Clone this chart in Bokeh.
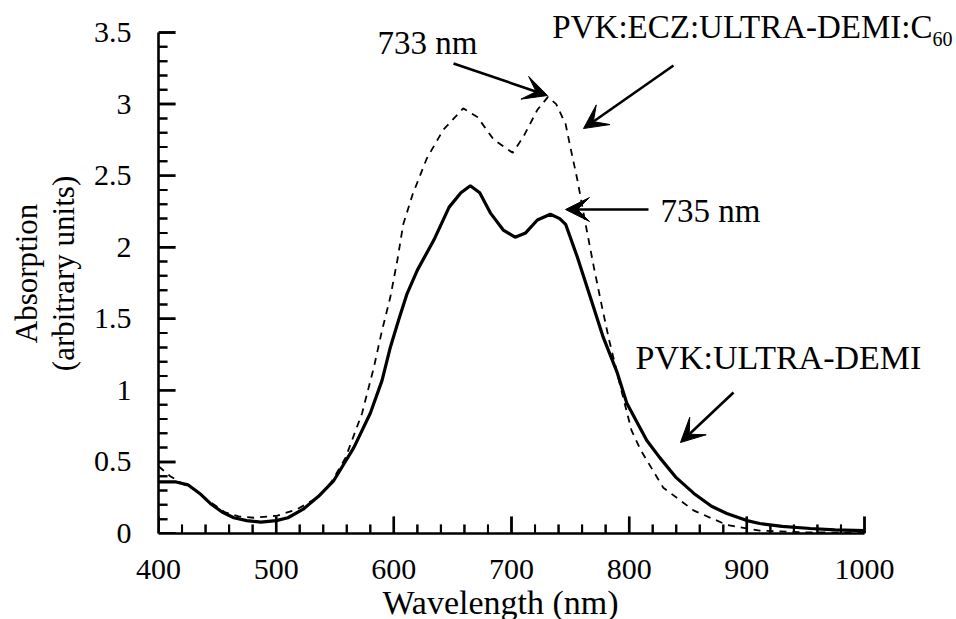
from bokeh.plotting import figure
from bokeh.models import Arrow, VeeHead, Label, FixedTicker, Range1d, Title
from bokeh.embed import file_html
from bokeh.resources import INLINE

# ---- data ----
wl_solid = [400, 415, 425, 435, 444, 454, 464, 475, 487, 500, 510, 523, 536, 549,
            566, 580, 590, 597, 604, 611, 620, 634, 647, 657, 665, 673, 682, 693,
            703, 712, 722, 733, 741, 746, 756, 767, 778, 790, 798, 815, 826, 840,
            855, 870, 883, 900, 911, 930, 954, 975, 1000]
abs_solid = [0.36, 0.36, 0.34, 0.28, 0.21, 0.15, 0.11, 0.09, 0.08, 0.09, 0.11, 0.17,
             0.26, 0.37, 0.60, 0.84, 1.07, 1.30, 1.49, 1.67, 1.84, 2.05, 2.28, 2.38,
             2.43, 2.38, 2.24, 2.12, 2.07, 2.10, 2.19, 2.23, 2.20, 2.16, 1.93, 1.65,
             1.37, 1.12, 0.91, 0.65, 0.53, 0.39, 0.28, 0.19, 0.14, 0.09, 0.07, 0.05,
             0.035, 0.025, 0.02]

wl_dash = [400, 410, 420, 432, 444, 456, 468, 481, 501, 518, 535, 547, 559, 573,
           583, 590, 597, 603, 608, 616, 628, 642, 659, 671, 685, 701, 710, 722,
           731, 738, 746, 750, 756, 763, 770, 777, 783, 794, 802, 810, 829, 855,
           883, 911, 950, 1000]
abs_dash = [0.47, 0.40, 0.35, 0.30, 0.22, 0.15, 0.12, 0.11, 0.125, 0.17, 0.25, 0.36,
            0.53, 0.84, 1.16, 1.42, 1.65, 1.91, 2.16, 2.37, 2.62, 2.82, 2.97, 2.91,
            2.75, 2.66, 2.77, 2.96, 3.05, 3.00, 2.86, 2.70, 2.47, 2.16, 1.86, 1.58,
            1.35, 0.98, 0.72, 0.58, 0.32, 0.16, 0.06, 0.02, 0.008, 0.005]

x_ticks = [400, 500, 600, 700, 800, 900, 1000]
x_tick_labels = ["400", "500", "600", "700", "800", "900", "1000"]
y_ticks = [0, 0.5, 1, 1.5, 2, 2.5, 3, 3.5]
y_tick_labels = ["0", "0.5", "1", "1.5", "2", "2.5", "3", "3.5"]
x_minor = [v for v in range(400, 1001, 20) if v % 100]
y_minor = [i / 10 for i in range(0, 36) if i % 5]

# ---- layout ----
FONT = "Liberation Serif"
xscale = 706 / 600.0       # px per nm
yscale = 501 / 3.5         # px per unit
LEFT, TOP = 158, 13
FW, FH = 795, 520
x_end = 400 + FW / xscale
y_end = FH / yscale

p = figure(frame_width=FW, frame_height=FH, output_backend="svg", toolbar_location=None,
           x_range=Range1d(400, x_end), y_range=Range1d(0, y_end),
           min_border_left=LEFT, min_border_right=0, min_border_top=TOP, min_border_bottom=0)
p.outline_line_color = None
p.grid.visible = False
p.background_fill_color = "white"
p.border_fill_color = "white"

p.line(wl_dash, abs_dash, line_color="black", line_width=1.8, line_dash="7 6")
p.line(wl_solid, abs_solid, line_color="black", line_width=3.2)

# inward tick marks: one short line per tick value (plus a headless-looking arrow)
MAJ, MIN = 17, 9


def tick(xa, ya, xb, yb, lw):
    p.line([xa, xb], [ya, yb], line_color="black", line_width=lw)
    p.add_layout(Arrow(x_start=xa, y_start=ya, x_end=xb, y_end=yb,
                       line_color="black", line_width=lw,
                       end=VeeHead(size=1, fill_alpha=0, line_alpha=0)))


for t in x_ticks:
    tick(float(t), 0.0, float(t), MAJ / yscale, 2.4)
for t in x_minor:
    tick(float(t), 0.0, float(t), MIN / yscale, 2.0)
for t in y_ticks:
    tick(400.0, float(t), 400 + MAJ / xscale, float(t), 2.4)
for t in y_minor:
    tick(400.0, float(t), 400 + MIN / xscale, float(t), 2.0)

for ax, ticks, labels, bounds in (
        (p.xaxis[0], x_ticks, x_tick_labels, (400, 1000)),
        (p.yaxis[0], y_ticks, y_tick_labels, (0, 3.5))):
    ax.ticker = FixedTicker(ticks=ticks, minor_ticks=[])
    ax.major_label_overrides = {t: l for t, l in zip(ticks, labels)}
    ax.bounds = bounds
    ax.axis_line_width = 2.6
    ax.axis_line_color = "black"
    ax.major_tick_in = 0
    ax.major_tick_out = 0
    ax.minor_tick_in = 0
    ax.minor_tick_out = 0
    ax.major_tick_line_color = None
    ax.minor_tick_line_color = None
    ax.major_label_text_font = FONT
    ax.major_label_text_font_size = "30px"
    ax.major_label_text_color = "black"
    ax.axis_label_text_font = FONT
    ax.axis_label_text_font_style = "normal"
    ax.axis_label_text_font_size = "31px"
    ax.axis_label_text_color = "black"

p.xaxis.major_label_standoff = 26
p.yaxis.axis_label = "Absorption\n(arbitrary units)"
p.yaxis.axis_label_text_line_height = 1.05
p.yaxis.major_label_standoff = 27
p.yaxis.axis_label_standoff = 10

p.add_layout(Title(text="Wavelength  (nm)", align="left", offset=224, standoff=0,
                   text_font=FONT, text_font_size="34px", text_font_style="normal",
                   text_color="black"), "below")


def px2x(px):
    return 400 + (px - 158) / xscale


def py2y(py):
    return (533 - py) / yscale


def arrow(x0, y0, x1, y1):
    p.add_layout(Arrow(x_start=px2x(x0), y_start=py2y(y0), x_end=px2x(x1), y_end=py2y(y1),
                       line_width=2.6, line_color="black",
                       end=VeeHead(size=24, fill_color="black", line_color="black", line_width=1)))


def label(px, py, text, size="33px", align="left"):
    p.add_layout(Label(x=px2x(px), y=py2y(py), text=text, text_font=FONT,
                       text_font_size=size, text_align=align, text_baseline="middle",
                       text_color="black"))


arrow(453, 63, 547, 95)
arrow(673, 65, 583, 128)
arrow(648, 209, 565, 209)
arrow(733, 392, 680, 442)

label(377, 42, "733 nm")
label(932, 26, "PVK:ECZ:ULTRA-DEMI:C", align="right")
label(932, 38, "60", size="20px")
label(660, 210, "735 nm")
label(635, 357, "PVK:ULTRA-DEMI", size="34px")

open("out.html", "w").write(file_html(p, INLINE))
